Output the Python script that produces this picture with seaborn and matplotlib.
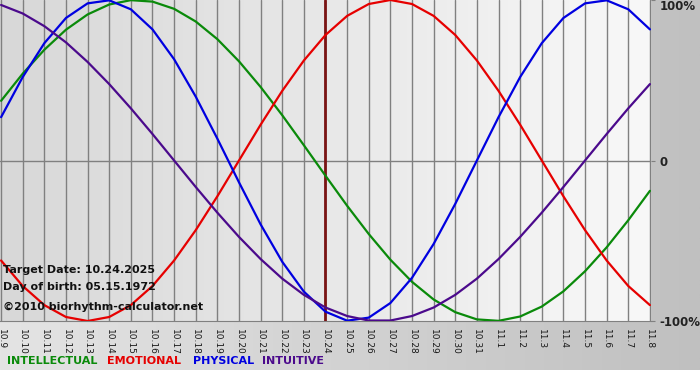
"""
plot.py
Biorhythm chart (10.9 - 11.8) for target date 10.24.2025
"""

import numpy as np
import pandas as pd
import matplotlib
matplotlib.use('Agg')
import matplotlib.pyplot as plt
from matplotlib.colors import LinearSegmentedColormap
import seaborn as sns

# Day labels along the x axis
DAY_LABELS = [
    '10.9', '10.10', '10.11', '10.12', '10.13', '10.14', '10.15', '10.16',
    '10.17', '10.18', '10.19', '10.20', '10.21', '10.22', '10.23', '10.24',
    '10.25', '10.26', '10.27', '10.28', '10.29', '10.30', '10.31', '11.1',
    '11.2', '11.3', '11.4', '11.5', '11.6', '11.7', '11.8'
]
TARGET_IDX = 15  # 10.24

# Cycle values in percent, one per day
PHYSICAL = [27.0, 52.0, 73.1, 88.8, 97.9, 99.8, 94.2, 81.7, 63.1, 39.8, 13.6,
            -13.6, -39.8, -63.1, -81.7, -94.2, -99.8, -97.9, -88.8, -73.1, -52.0,
            -27.0, 0.0, 27.0, 52.0, 73.1, 88.8, 97.9, 99.8, 94.2, 81.7]
EMOTIONAL = [-62.3, -78.2, -90.1, -97.5, -100.0, -97.5, -90.1, -78.2, -62.3,
             -43.4, -22.3, 0.0, 22.3, 43.4, 62.3, 78.2, 90.1, 97.5, 100.0, 97.5,
             90.1, 78.2, 62.3, 43.4, 22.3, 0.0, -22.3, -43.4, -62.3, -78.2, -90.1]
INTELLECTUAL = [37.2, 54.1, 69.0, 81.5, 91.0, 97.2, 99.9, 99.0, 94.5, 86.6,
                75.6, 61.8, 45.8, 28.2, 9.5, -9.5, -28.2, -45.8, -61.8, -75.6,
                -86.6, -94.5, -99.0, -99.9, -97.2, -91.0, -81.5, -69.0, -54.1,
                -37.2, -18.9]
INTUITIVE = [96.9, 91.6, 83.7, 73.6, 61.4, 47.6, 32.5, 16.5, 0.0, -16.5, -32.5,
             -47.6, -61.4, -73.6, -83.7, -91.6, -96.9, -99.7, -99.7, -96.9,
             -91.6, -83.7, -73.6, -61.4, -47.6, -32.5, -16.5, 0.0, 16.5, 32.5,
             47.6]

CYCLE_NAMES = ['INTELLECTUAL', 'EMOTIONAL', 'PHYSICAL', 'INTUITIVE']
CYCLE_COLORS = {'INTELLECTUAL': '#0a8a0a', 'EMOTIONAL': '#e60000',
                'PHYSICAL': '#0000e0', 'INTUITIVE': '#4b0a8c'}

W, H = 700, 380

frames = []
for name, vals in zip(CYCLE_NAMES, [INTELLECTUAL, EMOTIONAL, PHYSICAL, INTUITIVE]):
    frames.append(pd.DataFrame({'day': range(len(vals)), 'value': vals, 'cycle': name}))
df = pd.concat(frames, ignore_index=True)

sns.set_style('white')
plt.rcParams['font.family'] = ['DejaVu Sans']

fig = plt.figure(figsize=(W / 100, H / 100), dpi=100)
fig.patch.set_facecolor('white')

# outer gray gradient background
bg = fig.add_axes([0, 10 / H, 1, 1 - 10 / H], zorder=-10)
outer = LinearSegmentedColormap.from_list('outer', ['#e4e4e4', '#c0c0c0'])
bg.imshow(np.linspace(0, 1, 256)[None, :], cmap=outer, aspect='auto',
          extent=[0, 1, 0, 1])
bg.set_axis_off()

ax = fig.add_axes([0, 59 / H, 651 / W, 321 / H])
xmin, xmax = -0.05, 30.05
inner = LinearSegmentedColormap.from_list('inner', ['#d8d8d8', '#f8f8f8'])
ax.imshow(np.linspace(0, 1, 256)[None, :], cmap=inner, aspect='auto',
          extent=[xmin, xmax, -100, 100], zorder=0)

sns.lineplot(data=df, x='day', y='value', hue='cycle', hue_order=CYCLE_NAMES,
             palette=CYCLE_COLORS, linewidth=1.6, legend=False, ax=ax, zorder=3)

ax.set_xlim(xmin, xmax)
ax.set_ylim(-100, 100)
ax.set_xticks(range(len(DAY_LABELS)))
ax.set_xticklabels(DAY_LABELS, rotation=-90, fontsize=6.5, color='#1a1a1a')
ax.grid(axis='x', color='#808080', linewidth=1.0)
ax.set_axisbelow(False)
ax.axhline(0, color='#808080', linewidth=1.0, zorder=1)
ax.axvline(TARGET_IDX, color='#7a1414', linewidth=2.0, zorder=2.8)

ax.yaxis.tick_right()
ax.set_yticks([100, 0, -100])
ax.set_yticklabels(['100%', '0', '-100%'], fontsize=8.5, fontweight='bold', color='#222222')
ax.get_yticklabels()[0].set_va('top')
ax.tick_params(axis='y', length=3, color='#808080', pad=3)
ax.tick_params(axis='x', length=4, color='#808080', pad=2)
ax.set_xlabel('')
ax.set_ylabel('')
for s in ['top', 'left', 'right']:
    ax.spines[s].set_visible(False)
ax.spines['bottom'].set_color('#808080')

# info text inside the plot
info = [('Target Date: 10.24.2025', 270), ('Day of birth: 05.15.1972', 287),
        ('\u00a92010 biorhythm-calculator.net', 307)]
for txt, ypix in info:
    fig.text(3 / W, 1 - ypix / H, txt, fontsize=8, fontweight='bold',
             color='#111111', va='center', ha='left', zorder=5)

# colored legend text at the bottom
legend_x = [7, 107, 193, 262]
for name, xpix in zip(CYCLE_NAMES, legend_x):
    fig.text(xpix / W, 1 - 361 / H, name, fontsize=8, fontweight='bold',
             color=CYCLE_COLORS[name], va='center', ha='left')

fig.savefig('out.png', dpi=100)
plt.close(fig)
